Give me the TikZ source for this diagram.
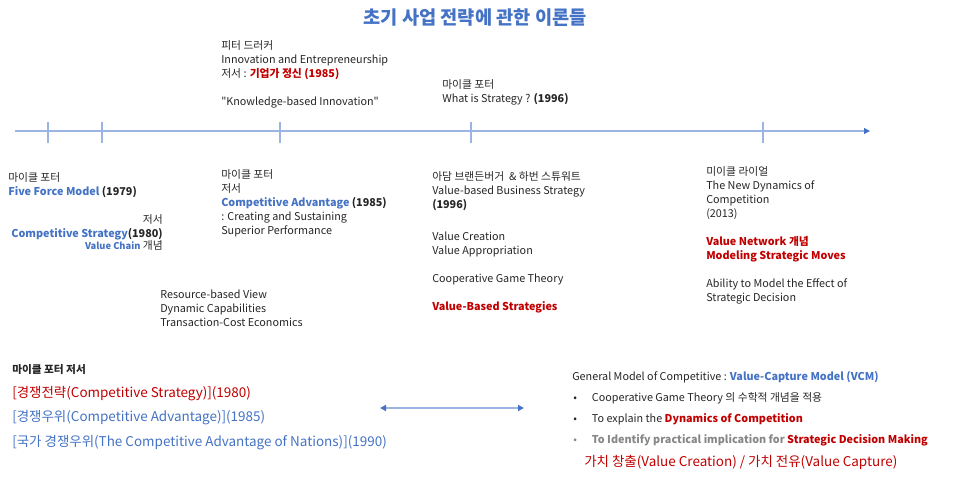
\documentclass[tikz,border=0pt]{standalone}
\usepackage{fontspec}
\setmainfont{Noto Sans CJK KR}
\newfontfamily\qfont{Noto Sans CJK KR}
\usetikzlibrary{arrows.meta}
\definecolor{cBlue} {RGB}{68, 114, 196}
\definecolor{cRed}  {RGB}{192,  0,   0}
\definecolor{cText} {RGB}{38,  38,  38}
\definecolor{cGray} {RGB}{135, 135, 135}
\definecolor{cLine} {RGB}{155, 180, 225}
\tikzset{
  T/.style     = {anchor=north west, inner sep=0pt, align=left, text=cText,
                  font=\fontsize{8.1}{10.5}\selectfont},
  Tr/.style    = {T, anchor=north east, align=right},
  big/.style   = {T, font=\fontsize{10.1}{12}\selectfont},
  tickL/.style = {cLine, line width=0.9pt},
  A/.style     = {cLine, line width=0.9pt,
                  -{Triangle[length=4.5pt,width=4.5pt,color=cBlue]}},
  A2/.style    = {cLine, line width=1.2pt,
                  {Triangle[length=4.5pt,width=4.5pt,color=cBlue]}-{Triangle[length=4.5pt,width=4.5pt,color=cBlue]}},
}
\begin{document}
\begin{tikzpicture}[x=0.75pt, y=-0.75pt]
\useasboundingbox (0,0) rectangle (961,479);

%% ─── Title ───────────────────────────────────────────────────────
\node[T, anchor=center, text=cBlue, font=\fontsize{14}{16}\selectfont\bfseries]
  (title) at (475,18) {초기 사업 전략에 관한 이론들};

%% ════════════════════════════════════════════════════════════
%%  Timeline
%% ════════════════════════════════════════════════════════════
\coordinate (tS) at (15,131);
\coordinate (tE) at (870,131);
\draw[A] (tS) -- (tE);
\draw[tickL] (48,122) -- (48,143);
\draw[tickL] (102,122) -- (102,143);
\draw[tickL] (280,122) -- (280,143);
\draw[tickL] (471,122) -- (471,143);
\draw[tickL] (763,122) -- (763,143);

%% above the line
\node[T] (drucker) at (221,40)
  {피터 드러커\\
   Innovation and Entrepreneurship\\
   저서 : \textcolor{cRed}{\textbf{기업가 정신 (1985)}}\\[10.5pt]
   {\qfont "Knowledge-based Innovation"}};
\node[T] (whatis) at (442,79)
  {마이클 포터\\
   What is Strategy ? \textbf{(1996)}};

%% below the line
\node[T] (porter79) at (8,172)
  {마이클 포터\\
   \textcolor{cBlue}{\textbf{Five Force Model}} \textbf{(1979)}};
\node[Tr] (porter80) at (163,214)
  {저서\\
   \textcolor{cBlue}{\textbf{Competitive Strategy}}\textbf{(1980)}\\[-1.5pt]
   {\fontsize{7}{8}\selectfont\textcolor{cBlue}{\textbf{Value Chain}}} 개념};
\node[T] (porter85) at (221,169)
  {마이클 포터\\
   저서\\
   \textcolor{cBlue}{\textbf{Competitive Advantage}} \textbf{(1985)}\\
   : Creating and Sustaining\\
   Superior Performance};
\node[T] (rbv) at (160,290)
  {Resource-based View\\
   Dynamic Capabilities\\
   Transaction-Cost Economics};
\node[T] (brand) at (432,171)
  {아담 브랜든버거 \ \& 하번 스튜워트\\
   Value-based Business Strategy\\
   \textbf{(1996)}\\[14pt]
   Value Creation\\
   Value Appropriation\\[10.5pt]
   Cooperative Game Theory\\[10.5pt]
   \textcolor{cRed}{\textbf{Value-Based Strategies}}};
\node[T] (ryall) at (706,166)
  {미이클 라이얼\\
   The New Dynamics of\\
   Competition\\
   (2013)\\[10.5pt]
   \textcolor{cRed}{\textbf{Value Network 개념}}\\
   \textcolor{cRed}{\textbf{Modeling Strategic Moves}}\\[10.5pt]
   Ability to Model the Effect of\\
   Strategic Decision};

%% ════════════════════════════════════════════════════════════
%%  BOTTOM: books and VCM
%% ════════════════════════════════════════════════════════════
\node[T, font=\fontsize{8}{10}\selectfont\bfseries] (books) at (12,364)
  {마이클 포터 저서};
\node[big, text=cRed]  (bk80) at (12,386) {[경쟁전략(Competitive Strategy)](1980)};
\node[big, text=cBlue] (bk85) at (12,410) {[경쟁우위(Competitive Advantage)](1985)};
\node[big, text=cBlue] (bk90) at (12,435)
  {[국가 경쟁우위(The Competitive Advantage of Nations)](1990)};

\coordinate (dL) at (380,408);
\coordinate (dR) at (524,408);
\draw[A2] (dL) -- (dR);

\node[T] (vcm) at (572,371)
  {General Model of Competitive : \textcolor{cBlue}{\textbf{Value-Capture Model (VCM)}}};
\node[T] (b1) at (573,392)
  {\makebox[14pt][l]{•}Cooperative Game Theory 의 수학적 개념을 적용};
\node[T] (b2) at (573,413)
  {\makebox[14pt][l]{•}To explain the \textcolor{cRed}{\textbf{Dynamics of Competition}}};
\node[T, text=cGray] (b3) at (573,434)
  {\makebox[14pt][l]{•}\textbf{To Identify practical implication for}
   \textcolor{cRed}{\textbf{Strategic Decision Making}}};
\node[big, text=cRed] (capture) at (584,455)
  {가치 창출(Value Creation) / 가치 전유(Value Capture)};

\end{tikzpicture}
\end{document}
